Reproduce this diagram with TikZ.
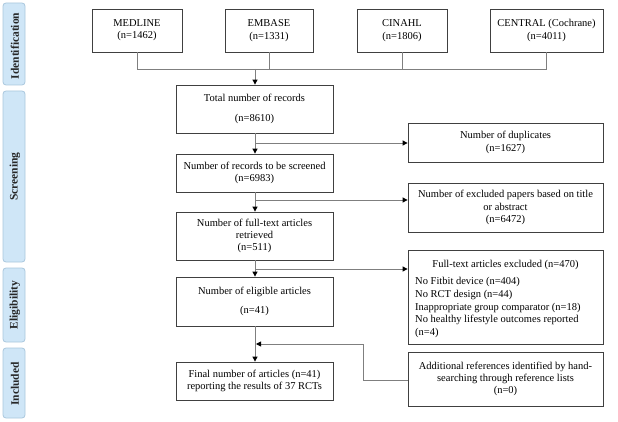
\documentclass[tikz,border=0pt]{standalone}
\usepackage{fontspec}
\setmainfont{Liberation Serif}
\usetikzlibrary{arrows.meta}
\definecolor{sidefill}{HTML}{CFE6F7}
\definecolor{sidedraw}{HTML}{A9C7DD}
\definecolor{boxdraw}{HTML}{404040}
\definecolor{linecol}{HTML}{7F7F7F}
\begin{document}
\begin{tikzpicture}[x=1pt,y=-1pt,
  box/.style={draw=boxdraw,line width=0.8pt,inner sep=1pt,align=center,
    font=\fontsize{10.5}{12.3}\selectfont},
  side/.style={draw=sidedraw,fill=sidefill,rounded corners=3pt,line width=0.8pt},
  sidetext/.style={rotate=90,font=\fontsize{11.5}{13}\selectfont\bfseries,text=black!85},
  conn/.style={draw=linecol,line width=0.9pt},
  arr/.style={conn,-{Triangle[length=5pt,width=5pt,fill=black,color=black]}},
  txt/.style={font=\fontsize{10.5}{12.8}\selectfont,inner sep=0pt}]
\useasboundingbox (0,0) rectangle (618,422);
% side labels
\draw[side] (3,3) rectangle (25,85);
\node[sidetext] (sid1) at (15,46) {Identification};
\draw[side] (3,91) rectangle (25,262);
\node[sidetext] (sid2) at (15,176.5) {Screening};
\draw[side] (3,268) rectangle (25,342);
\node[sidetext] (sid3) at (15,305) {Eligibility};
\draw[side] (3,348) rectangle (25,418);
\node[sidetext] (sid4) at (15,384) {Included};
% boxes
\node[box,minimum width=90pt,minimum height=43pt] (med) at (137,30.5) {MEDLINE\\(n=1462)};
\node[box,minimum width=88pt,minimum height=43pt] (emb) at (269,30.5) {EMBASE\\(n=1331)};
\node[box,minimum width=90pt,minimum height=43pt] (cin) at (402,30.5) {CINAHL\\(n=1806)};
\node[box,minimum width=113pt,minimum height=43pt] (cen) at (546.5,30.5) {CENTRAL (Cochrane)\\(n=4011)};
\node[box,minimum width=157pt,minimum height=48pt] (tot) at (254.5,109) {Total number of records\\[7pt](n=8610)};
\node[box,minimum width=195pt,minimum height=39pt] (dup) at (505.5,142.5) {Number of duplicates\\(n=1627)};
\node[box,minimum width=157pt,minimum height=38pt] (scr) at (254.5,173) {Number of records to be screened\\(n=6983)};
\node[box,minimum width=195pt,minimum height=49pt] (exc) at (505.5,207.5) {Number of excluded papers based on title\\or abstract\\(n=6472)};
\node[box,minimum width=157pt,minimum height=48pt] (ful) at (254.5,236) {Number of full-text articles\\retrieved\\(n=511)};
\node[box,minimum width=195pt,minimum height=94pt] (fte) at (505.5,297) {};
\node[txt,anchor=base] (ftt) at (505.5,267.5) {Full-text articles excluded (n=470)};
\node[txt,anchor=north west,align=left] (ftl) at (415,277) {No Fitbit device (n=404)\\No RCT design (n=44)\\Inappropriate group comparator (n=18)\\No healthy lifestyle outcomes reported\\(n=4)};
\node[box,minimum width=157pt,minimum height=49pt] (eli) at (254.5,301.5) {Number of eligible articles\\[7pt](n=41)};
\node[box,minimum width=157pt,minimum height=38pt] (fin) at (254.5,381) {Final number of articles (n=41)\\reporting the results of 37 RCTs};
\node[box,minimum width=195pt,minimum height=54pt] (add) at (505.5,379) {Additional references identified by hand-\\searching through reference lists\\(n=0)};
% merge
\coordinate (m1) at (137,69);
\coordinate (m4) at (546.5,69);
\coordinate (mc) at (255,69);
\draw[conn] (med.south) -- (m1) -- (m4) -- (cen.south);
\draw[conn] (emb.south) -- (emb.south |- m1);
\draw[conn] (cin.south) -- (cin.south |- m1);
\draw[arr] (mc) -- (mc |- tot.north);
% flow
\draw[arr] (tot.south -| mc) -- (scr.north -| mc);
\coordinate (b1) at (255,143);
\draw[arr] (b1) -- (b1 -| dup.west);
\draw[arr] (scr.south -| mc) -- (ful.north -| mc);
\coordinate (b2) at (255,200);
\draw[arr] (b2) -- (b2 -| exc.west);
\draw[arr] (ful.south -| mc) -- (eli.north -| mc);
\coordinate (b3) at (255,269);
\draw[arr] (b3) -- (b3 -| fte.west);
\draw[arr] (eli.south -| mc) -- (fin.north -| mc);
\coordinate (a1) at (363,380);
\coordinate (a2) at (363,344);
\coordinate (a3) at (256,344);
\draw[arr] (add.west |- a1) -- (a1) -- (a2) -- (a3);
\end{tikzpicture}
\end{document}
